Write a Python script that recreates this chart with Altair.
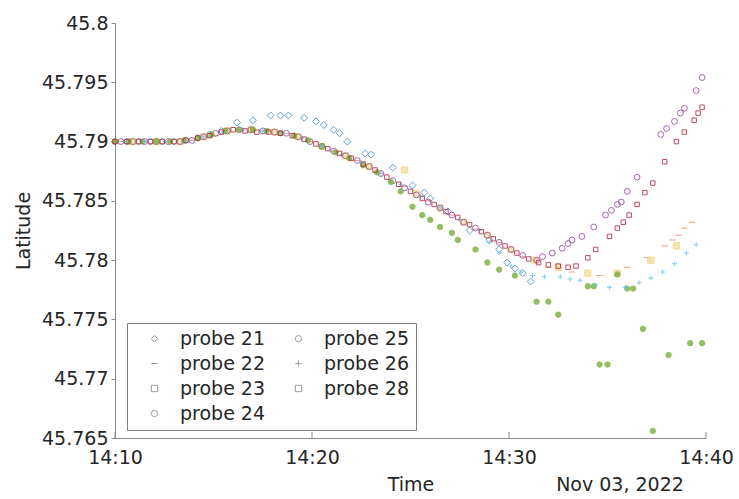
import altair as alt
import pandas as pd

# minutes after 14:10 (Nov 03, 2022) and latitude, per probe
p21_t = [0.0, 0.6, 1.2, 1.8, 2.4, 3.0, 3.6, 4.2, 4.8, 5.4, 6.2, 7.0, 7.9, 8.4, 8.8, 9.6, 10.2, 10.6, 11.1, 11.4,
         11.8, 12.7, 13.0, 14.1, 15.1, 15.7, 16.0, 16.9, 18.0, 19.0, 19.5, 19.9, 20.3, 20.7, 21.1]
p21_lat = [45.7900, 45.7900, 45.7900, 45.7900, 45.7900, 45.7900, 45.7901, 45.7903, 45.7906, 45.7909, 45.7916, 45.7918,
           45.7922, 45.7922, 45.7922, 45.7920, 45.7917, 45.7914, 45.7910, 45.7907, 45.7900, 45.7890, 45.7889, 45.7878,
           45.7863, 45.7857, 45.7852, 45.7841, 45.7825, 45.7817, 45.7809, 45.7798, 45.7793, 45.7789, 45.7782]

p22_t = [0.3, 1.5, 2.7, 3.9, 5.1, 6.3, 7.5, 8.7, 9.9, 11.1, 12.3, 13.5, 14.7, 15.9, 17.1, 18.3, 19.5, 20.7,
         22.0, 23.2, 24.6, 26.0, 27.0, 27.9, 28.3, 28.6, 28.9, 29.3]
p22_lat = [45.7900, 45.7900, 45.7900, 45.7901, 45.7905, 45.7910, 45.7909, 45.7907, 45.7900, 45.7892, 45.7884, 45.7873,
           45.7862, 45.7850, 45.7838, 45.7826, 45.7815, 45.7803, 45.7794, 45.7790, 45.7787, 45.7794, 45.7802, 45.7812,
           45.7817, 45.7821, 45.7827, 45.7832]

p23_t = [0.9, 2.1, 3.3, 4.5, 5.7, 6.9, 8.1, 9.3, 10.5, 11.7, 12.9, 14.7, 15.3, 16.5, 17.7, 18.9, 20.1, 21.3,
         22.5, 24.0, 25.5, 27.2, 28.5]
p23_lat = [45.7900, 45.7900, 45.7900, 45.7904, 45.7909, 45.7910, 45.7908, 45.7904, 45.7896, 45.7888, 45.7879, 45.7876,
           45.7856, 45.7844, 45.7832, 45.7821, 45.7809, 45.7800, 45.7794, 45.7789, 45.7789, 45.7800, 45.7812]

p24_t = [0.3, 0.9, 1.5, 2.1, 2.7, 3.3, 3.9, 4.5, 5.1, 5.7, 6.3, 6.9, 7.5, 8.1, 8.7, 9.3, 9.9, 10.5, 11.1, 11.7,
         12.3, 12.9, 13.5, 14.1, 14.7, 15.3, 15.9, 16.5, 17.1, 17.7, 18.3, 18.9, 19.5, 20.1, 20.7, 21.4, 21.7, 22.2,
         22.7, 23.0, 23.2, 23.7, 24.3, 24.9, 25.2, 25.5, 25.7, 26.0, 26.5, 27.7, 28.0, 28.4, 28.7, 28.9, 29.5, 29.8]
p24_lat = [45.7900, 45.7900, 45.7900, 45.7900, 45.7900, 45.7900, 45.7901, 45.7904, 45.7907, 45.7909, 45.7910, 45.7910,
           45.7909, 45.7908, 45.7907, 45.7904, 45.7900, 45.7896, 45.7892, 45.7888, 45.7884, 45.7879, 45.7873, 45.7867,
           45.7861, 45.7855, 45.7849, 45.7844, 45.7838, 45.7832, 45.7827, 45.7821, 45.7815, 45.7809, 45.7804, 45.7800,
           45.7803, 45.7806, 45.7810, 45.7814, 45.7817, 45.7820, 45.7828, 45.7838, 45.7842, 45.7847, 45.7849, 45.7858,
           45.7870, 45.7906, 45.7911, 45.7917, 45.7924, 45.7928, 45.7943, 45.7954]

p25_t = [0.0, 0.7, 1.4, 2.1, 2.8, 3.5, 4.2, 4.9, 5.6, 6.3, 7.0, 7.7, 8.4, 9.1, 9.8, 10.5, 11.2, 11.9, 12.6, 13.3,
         14.0, 14.5, 15.1, 15.6, 16.0, 16.5, 17.1, 17.4, 18.3, 18.9, 19.5, 20.3, 21.4, 22.0, 22.5, 24.0, 24.3, 24.6,
         25.0, 25.5, 26.0, 26.3, 26.8, 27.3, 28.1, 29.2, 29.8]
p25_lat = [45.7900, 45.7900, 45.7900, 45.7900, 45.7900, 45.7901, 45.7903, 45.7906, 45.7909, 45.7910, 45.7910, 45.7909,
           45.7907, 45.7905, 45.7901, 45.7896, 45.7891, 45.7886, 45.7880, 45.7874, 45.7866, 45.7858, 45.7845, 45.7838,
           45.7834, 45.7828, 45.7823, 45.7817, 45.7809, 45.7798, 45.7792, 45.7787, 45.7765, 45.7765, 45.7754, 45.7778,
           45.7778, 45.7712, 45.7712, 45.7788, 45.7776, 45.7776, 45.7742, 45.7656, 45.7720, 45.7730, 45.7730]

p26_t = [0.5, 1.5, 2.5, 3.5, 4.5, 5.5, 6.5, 7.5, 8.5, 9.5, 10.5, 11.5, 12.5, 13.5, 14.5, 15.5, 16.5, 17.5, 18.5,
         19.0, 19.5, 20.1, 20.6, 21.2, 21.8, 22.6, 23.1, 23.6, 24.4, 25.1, 25.9, 26.6, 27.2, 27.8, 28.4, 29.0, 29.5]
p26_lat = [45.7900, 45.7900, 45.7900, 45.7900, 45.7904, 45.7908, 45.7910, 45.7909, 45.7907, 45.7903, 45.7896, 45.7889,
           45.7882, 45.7873, 45.7864, 45.7854, 45.7844, 45.7834, 45.7825, 45.7815, 45.7806, 45.7795, 45.7790, 45.7787,
           45.7786, 45.7786, 45.7784, 45.7783, 45.7779, 45.7777, 45.7777, 45.7781, 45.7785, 45.7790, 45.7797, 45.7806,
           45.7813]

p28_t = [0.0, 0.6, 1.2, 1.8, 2.4, 3.0, 3.6, 4.2, 4.8, 5.4, 6.0, 6.6, 7.2, 7.8, 8.4, 9.0, 9.6, 10.2, 10.8, 11.4,
         12.0, 12.6, 13.2, 13.8, 14.4, 15.0, 15.6, 16.2, 16.8, 17.4, 18.0, 18.6, 19.2, 19.8, 20.4, 21.0, 21.5, 22.0,
         22.5, 23.0, 23.4, 24.0, 24.4, 25.1, 25.5, 25.8, 26.1, 26.5, 26.9, 27.3, 27.9, 28.5, 28.9, 29.4, 29.6, 29.8]
p28_lat = [45.7900, 45.7900, 45.7900, 45.7900, 45.7900, 45.7900, 45.7901, 45.7903, 45.7905, 45.7908, 45.7910, 45.7909,
           45.7908, 45.7908, 45.7907, 45.7905, 45.7902, 45.7898, 45.7894, 45.7890, 45.7886, 45.7881, 45.7876, 45.7870,
           45.7864, 45.7858, 45.7852, 45.7847, 45.7841, 45.7836, 45.7830, 45.7824, 45.7818, 45.7812, 45.7806, 45.7801,
           45.7798, 45.7796, 45.7795, 45.7794, 45.7795, 45.7802, 45.7809, 45.7820, 45.7827, 45.7832, 45.7838, 45.7847,
           45.7857, 45.7865, 45.7883, 45.7900, 45.7908, 45.7918, 45.7924, 45.7929]

series = [
    ("probe 21", p21_t, p21_lat),
    ("probe 22", p22_t, p22_lat),
    ("probe 23", p23_t, p23_lat),
    ("probe 24", p24_t, p24_lat),
    ("probe 25", p25_t, p25_lat),
    ("probe 26", p26_t, p26_lat),
    ("probe 28", p28_t, p28_lat),
]

x_ticks = [0, 10, 20, 30]
y_ticks = [45.765, 45.77, 45.775, 45.78, 45.785, 45.79, 45.795, 45.8]
date_label = ["Nov 03, 2022"]

rows = []
for name, ts, lats in series:
    for t, la in zip(ts, lats):
        rows.append({"probe": name, "pstroke": "s " + name, "pfill": "f " + name, "psize": "z " + name,
                     "minute": t, "lat": la})
df = pd.DataFrame(rows)

# legend fills column by column with 2 columns
order = ["probe 21", "probe 22", "probe 23", "probe 24", "probe 25", "probe 26", "probe 28"]
shape_map = {
    "probe 21": "diamond",
    "probe 22": "M-1,0L1,0",
    "probe 23": "square",
    "probe 24": "circle",
    "probe 25": "circle",
    "probe 26": "M-1,0L1,0M0,-1L0,1",
    "probe 28": "square",
}
stroke_map = {
    "probe 21": "#3A86CC",
    "probe 22": "#E8866A",
    "probe 23": "#F2D27A",
    "probe 24": "#8E3FA0",
    "probe 25": "#7AAE3A",
    "probe 26": "#62C4EE",
    "probe 28": "#B0203A",
}
fill_map = {
    "probe 21": "transparent",
    "probe 22": "transparent",
    "probe 23": "#F5DE9A",
    "probe 24": "transparent",
    "probe 25": "#7AAE3A",
    "probe 26": "transparent",
    "probe 28": "transparent",
}
size_map = {
    "probe 21": 48, "probe 22": 20, "probe 23": 36, "probe 24": 42,
    "probe 25": 22, "probe 26": 20, "probe 28": 36,
}

font = "DejaVu Sans"

xscale = alt.Scale(domain=[0, 30], nice=False, zero=False)
yscale = alt.Scale(domain=[45.765, 45.8], nice=False, zero=False)

points = alt.Chart(df).mark_point(filled=False, opacity=0.8, strokeWidth=1).encode(
    x=alt.X("minute:Q", scale=xscale,
            axis=alt.Axis(values=x_ticks, labelExpr="'14:' + (10 + datum.value)", title="Time",
                          tickSize=0, labelPadding=10, titlePadding=8, labelFlush=False, grid=False)),
    y=alt.Y("lat:Q", scale=yscale,
            axis=alt.Axis(values=y_ticks, format=".3~f", title="Latitude", tickSize=4, labelPadding=3,
                          titlePadding=8, grid=False)),
    shape=alt.Shape("probe:N", scale=alt.Scale(domain=order, range=[shape_map[o] for o in order]),
                    legend=alt.Legend(
                        title=None, orient="none", legendX=12, legendY=300, columns=2,
                        strokeColor="#7f7f7f", fillColor="white", padding=6,
                        labelFontSize=19, labelFont=font, labelColor="#262626",
                        symbolOffset=12, labelOffset=16, columnPadding=11, rowPadding=5,
                        symbolSize=40, symbolStrokeColor="#9a9a9a", symbolStrokeWidth=1,
                        symbolFillColor="transparent", symbolOpacity=1,
                    )),
    stroke=alt.Stroke("pstroke:N", scale=alt.Scale(domain=["s " + o for o in order],
                                                    range=[stroke_map[o] for o in order]),
                      legend=None),
    fill=alt.Fill("pfill:N", scale=alt.Scale(domain=["f " + o for o in order],
                                              range=[fill_map[o] for o in order]),
                  legend=None),
    size=alt.Size("psize:N", scale=alt.Scale(domain=["z " + o for o in order],
                                              range=[size_map[o] for o in order]),
                  legend=None),
)

ticks = alt.Chart(pd.DataFrame({"minute": x_ticks})).mark_rule(color="#8a8a8a", strokeWidth=1).encode(
    x=alt.X("minute:Q", scale=xscale),
    y=alt.value(415),
    y2=alt.value(409),
)

date_text = alt.Chart(pd.DataFrame({"d": date_label})).mark_text(
    font=font, fontSize=19, color="#262626", align="center", baseline="middle"
).encode(
    text="d:N",
    x=alt.value(505),
    y=alt.value(462),
)

chart = alt.layer(points, ticks, date_text).properties(
    width=591, height=415,
    autosize=alt.AutoSizeParams(type="none"),
    padding={"left": 115, "top": 23, "right": 33, "bottom": 61},
    background="white",
).configure_view(stroke=None).configure_axis(
    labelFont=font, labelFontSize=19, labelColor="#262626",
    titleFont=font, titleFontSize=19, titleColor="#262626", titleFontWeight="normal",
    domainColor="#8a8a8a", tickColor="#8a8a8a",
)

chart.save("out.html", embed_options={"renderer": "svg", "actions": False})
